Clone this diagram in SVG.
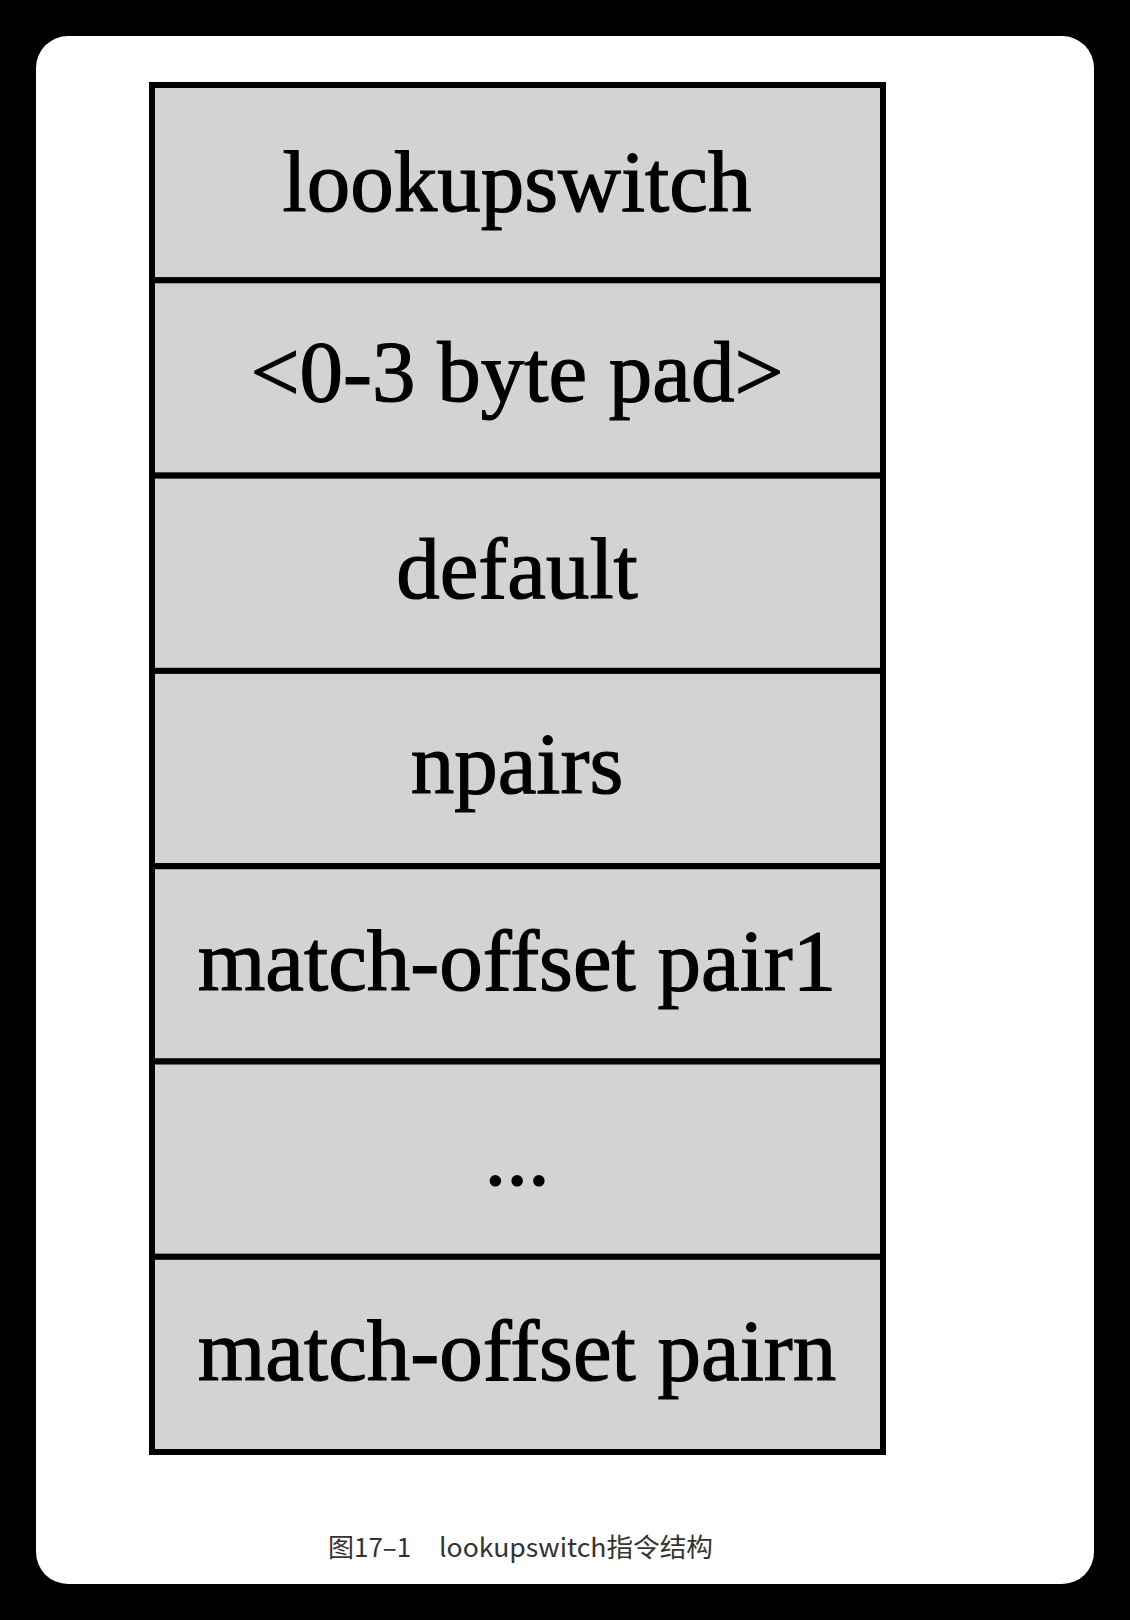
<svg xmlns="http://www.w3.org/2000/svg" width="1130" height="1620" viewBox="0 0 1130 1620">
<style>
.cell{fill:#d3d3d3;stroke:#000;stroke-width:6}
.lbl{font-family:"Liberation Serif","Times New Roman",serif;font-size:87px;fill:#000;stroke:#000;stroke-width:1.2;text-anchor:middle}
.cap{font-family:"Noto Sans CJK SC","Noto Sans",sans-serif;font-size:26px;fill:#333}
</style>
<rect x="0" y="0" width="1130" height="1620" fill="#000"/>
<rect x="36" y="36" width="1058" height="1548" rx="32" ry="32" fill="#fff"/>
<g id="table">
<g id="row1"><rect class="cell" x="152" y="85" width="731" height="195.3"/><text class="lbl" x="517" y="211">lookupswitch</text></g>
<g id="row2"><rect class="cell" x="152" y="280.3" width="731" height="195.3"/><text class="lbl" x="517" y="401">&lt;0-3 byte pad&gt;</text></g>
<g id="row3"><rect class="cell" x="152" y="475.6" width="731" height="195.3"/><text class="lbl" x="517" y="598">default</text></g>
<g id="row4"><rect class="cell" x="152" y="670.9" width="731" height="195.3"/><text class="lbl" x="517" y="793">npairs</text></g>
<g id="row5"><rect class="cell" x="152" y="866.2" width="731" height="195.3"/><text class="lbl" x="517" y="990">match-offset pair1</text></g>
<g id="row6"><rect class="cell" x="152" y="1061.5" width="731" height="195.3"/><text class="lbl" x="517" y="1185">...</text></g>
<g id="row7"><rect class="cell" x="152" y="1256.8" width="731" height="195.2"/><text class="lbl" x="517" y="1380">match-offset pairn</text></g>
</g>
<g id="connectors"></g>
<g id="caption">
<text class="cap" x="328" y="1557">图17–1</text>
<text class="cap" x="439" y="1557" textLength="274" lengthAdjust="spacingAndGlyphs">lookupswitch指令结构</text>
</g>
</svg>
